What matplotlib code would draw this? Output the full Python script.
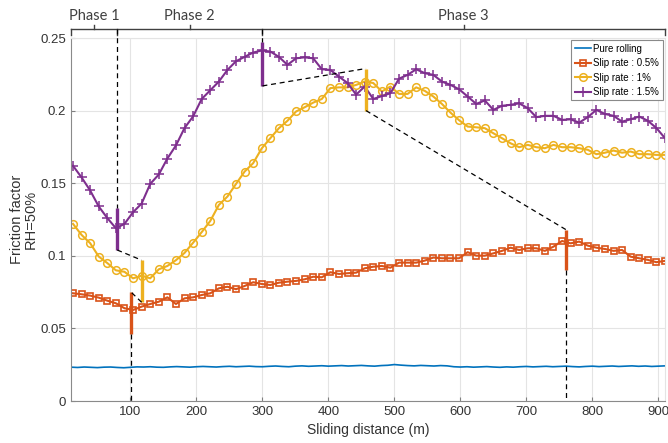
import numpy as np
import matplotlib.pyplot as plt

# marker positions along the sliding distance (m)
dist = np.arange(13, 911, 13)

pure_x = np.arange(10, 911, 10)
pure_rolling = [0.0233, 0.0231, 0.0234, 0.0232, 0.0230, 0.0233, 0.0234, 0.0231, 0.0229, 0.0232,
                0.0235, 0.0234, 0.0236, 0.0233, 0.0232, 0.0235, 0.0237, 0.0235, 0.0233, 0.0236,
                0.0238, 0.0236, 0.0234, 0.0237, 0.0239, 0.0236, 0.0238, 0.0240, 0.0237, 0.0236,
                0.0239, 0.0241, 0.0238, 0.0236, 0.0240, 0.0242, 0.0239, 0.0241, 0.0243, 0.0240,
                0.0242, 0.0244, 0.0241, 0.0243, 0.0245, 0.0242, 0.0240, 0.0244, 0.0246, 0.0251,
                0.0247, 0.0244, 0.0242, 0.0245, 0.0243, 0.0241, 0.0244, 0.0242, 0.0236, 0.0234,
                0.0236, 0.0233, 0.0235, 0.0237, 0.0234, 0.0232, 0.0235, 0.0233, 0.0236, 0.0238,
                0.0235, 0.0237, 0.0239, 0.0236, 0.0238, 0.0240, 0.0237, 0.0235, 0.0238, 0.0240,
                0.0237, 0.0239, 0.0241, 0.0238, 0.0240, 0.0242, 0.0239, 0.0241, 0.0238, 0.0240, 0.0242]

slip_05 = [0.0742, 0.0735, 0.0726, 0.0712, 0.0691, 0.0673, 0.0639, 0.0627, 0.0650, 0.0668,
           0.0684, 0.0714, 0.0668, 0.0707, 0.0714, 0.0730, 0.0742, 0.0776, 0.0787, 0.0770,
           0.0792, 0.0818, 0.0806, 0.0799, 0.0815, 0.0822, 0.0827, 0.0838, 0.0856, 0.0852,
           0.0887, 0.0875, 0.0880, 0.0884, 0.0914, 0.0925, 0.0930, 0.0918, 0.0953, 0.0953,
           0.0953, 0.0967, 0.0988, 0.0983, 0.0983, 0.0983, 0.1025, 0.1001, 0.1001, 0.1017,
           0.1034, 0.1056, 0.1040, 0.1052, 0.1052, 0.1034, 0.1063, 0.1102, 0.1086, 0.1098,
           0.1070, 0.1056, 0.1047, 0.1034, 0.1040, 0.0994, 0.0983, 0.0972, 0.0956, 0.0965]

slip_1 = [0.1220, 0.1144, 0.1087, 0.0995, 0.0950, 0.0900, 0.0890, 0.0845, 0.0863, 0.0845,
          0.0907, 0.0930, 0.0970, 0.1020, 0.1090, 0.1163, 0.1240, 0.1350, 0.1408, 0.1495,
          0.1580, 0.1638, 0.1740, 0.1810, 0.1879, 0.1930, 0.1994, 0.2023, 0.2055, 0.2080,
          0.2155, 0.2160, 0.2160, 0.2177, 0.2200, 0.2190, 0.2132, 0.2166, 0.2115, 0.2115,
          0.2160, 0.2136, 0.2097, 0.2046, 0.1986, 0.1934, 0.1890, 0.1885, 0.1879, 0.1844,
          0.1810, 0.1775, 0.1748, 0.1764, 0.1748, 0.1741, 0.1764, 0.1748, 0.1748, 0.1741,
          0.1730, 0.1700, 0.1710, 0.1725, 0.1710, 0.1718, 0.1700, 0.1700, 0.1695, 0.1695]

slip_15 = [0.1620, 0.1540, 0.1450, 0.1340, 0.1260, 0.1190, 0.1220, 0.1300, 0.1360, 0.1495,
           0.1560, 0.1670, 0.1760, 0.1880, 0.1960, 0.2080, 0.2140, 0.2200, 0.2280, 0.2340,
           0.2370, 0.2400, 0.2414, 0.2407, 0.2370, 0.2315, 0.2360, 0.2367, 0.2360, 0.2285,
           0.2280, 0.2234, 0.2190, 0.2110, 0.2166, 0.2080, 0.2100, 0.2120, 0.2220, 0.2246,
           0.2285, 0.2258, 0.2246, 0.2200, 0.2177, 0.2147, 0.2097, 0.2046, 0.2070, 0.2005,
           0.2033, 0.2040, 0.2050, 0.2017, 0.1955, 0.1964, 0.1964, 0.1936, 0.1940, 0.1917,
           0.1955, 0.2005, 0.1977, 0.1964, 0.1924, 0.1940, 0.1959, 0.1930, 0.1880, 0.1810]

# transition jumps (x, top, bottom) for each slip rate
jump_15_x, jump_15_top, jump_15_bot = [80, 300], [0.133, 0.247], [0.104, 0.217]
jump_1_x, jump_1_top, jump_1_bot = [117, 457], [0.097, 0.229], [0.068, 0.200]
jump_05_x, jump_05_top, jump_05_bot = [101, 760], [0.075, 0.118], [0.046, 0.090]

phase_edges = [10, 80, 300, 910]
phase_names = ['Phase 1', 'Phase 2', 'Phase 3']

blue, red, yellow, purple = '#0072BD', '#D95319', '#EDB120', '#7E2F8E'

plt.rcParams['font.family'] = 'Liberation Sans'
fig = plt.figure(figsize=(6.68, 4.43), dpi=100)
ax = fig.add_axes([0.1063, 0.0948, 0.8892, 0.8194])

ax.plot(pure_x, pure_rolling, color=blue, lw=1.2, label='Pure rolling')
ax.plot(dist, slip_05, color=red, lw=1.5, marker='s', ms=4.5, mfc='none', mew=1.2,
        label='Slip rate : 0.5%')
ax.plot(dist, slip_1, color=yellow, lw=1.5, marker='o', ms=5.5, mfc='none', mew=1.1,
        label='Slip rate : 1%')
ax.plot(dist, slip_15, color=purple, lw=1.5, marker='+', ms=7.5, mew=1.1,
        label='Slip rate : 1.5%')

ax.vlines(jump_15_x, jump_15_bot, jump_15_top, color=purple, lw=2.4, zorder=4)
ax.vlines(jump_1_x, jump_1_bot, jump_1_top, color=yellow, lw=2.4, zorder=4)
ax.vlines(jump_05_x, jump_05_bot, jump_05_top, color=red, lw=2.4, zorder=4)

# bracket above the axes with phase labels
yb = 0.2562
dash = dict(color='black', lw=0.9, ls=(0, (4, 3)), clip_on=False, zorder=5)
for i in range(2):
    ax.plot([jump_15_x[i], jump_15_x[i]], [yb, jump_15_top[i]], **dash)
    ax.plot([jump_15_x[i], jump_1_x[i]], [jump_15_bot[i], jump_1_top[i]], **dash)
    ax.plot([jump_1_x[i], jump_05_x[i]], [jump_1_bot[i], jump_05_top[i]], **dash)
    ax.plot([jump_05_x[i], jump_05_x[i]], [jump_05_bot[i], 0], **dash)

br = dict(color='#404040', lw=1.0, clip_on=False)
ax.plot([phase_edges[0], phase_edges[-1]], [yb, yb], **br)
for e in phase_edges:
    ax.plot([e, e], [yb, yb - 0.004], **br)
for k, name in enumerate(phase_names):
    xm = (phase_edges[k] + phase_edges[k + 1]) / 2
    ax.plot([xm, xm], [yb, yb + 0.0025], **br)
    ax.text(xm, yb + 0.004, name, ha='center', va='bottom', fontsize=10.5,
            family='Lato', color='#404040')

ax.set_xlim(10, 910)
ax.set_ylim(0, 0.25)
ax.set_xticks([100, 200, 300, 400, 500, 600, 700, 800, 900])
ax.set_yticks([0, 0.05, 0.1, 0.15, 0.2, 0.25])
ax.set_yticklabels(['0', '0.05', '0.1', '0.15', '0.2', '0.25'])
ax.tick_params(direction='in', length=3, color='#7f7f7f', labelcolor='#333333', labelsize=9.5)
ax.grid(color='#e4e4e4', lw=0.8)
ax.set_axisbelow(True)
for s in ['left', 'bottom']:
    ax.spines[s].set_color('#8a8a8a')
for s in ['top', 'right']:
    ax.spines[s].set_color('#e4e4e4')

ax.set_xlabel('Sliding distance (m)', fontsize=10, color='#333333', labelpad=4)
ax.set_ylabel('Friction factor\nRH=50%', fontsize=10.5, color='#333333', linespacing=1.0)
ax.yaxis.set_label_coords(-0.056, 0.5)

leg = ax.legend(loc='upper right', fontsize=7, handlelength=1.7, handletextpad=0.2,
                borderpad=0.35, labelspacing=0.45, borderaxespad=0.25, fancybox=False,
                framealpha=1)
leg.get_frame().set_edgecolor('#8a8a8a')
leg.get_frame().set_linewidth(0.8)

fig.savefig('out.png', dpi=100)
